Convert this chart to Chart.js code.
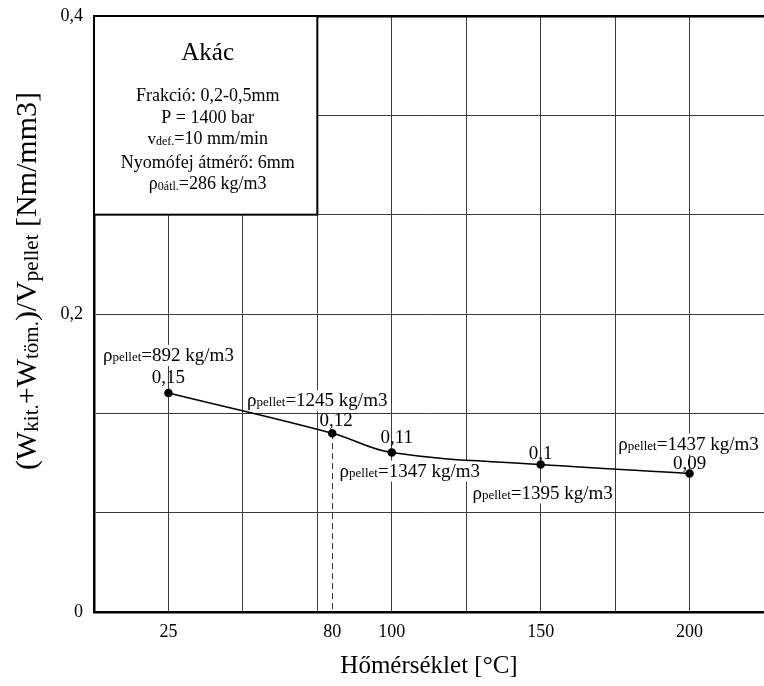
<!DOCTYPE html>
<html>
<head>
<meta charset="utf-8">
<script src="https://cdn.jsdelivr.net/npm/chart.js@4.4.1/dist/chart.umd.min.js"></script>
<style>
html,body{margin:0;padding:0;background:#fff;}
#wrap{width:764px;height:686px;}
canvas{display:block;}
</style>
</head>
<body>
<div id="wrap"><canvas id="c" width="764" height="686"></canvas></div>
<script>
// ---- data ----
const temperatures = [25, 80, 100, 150, 200];
const energyDensity = [0.147, 0.120, 0.107, 0.099, 0.093];
const valueLabels = ['0,15', '0,12', '0,11', '0,1', '0,09'];
const pelletDensities = [892, 1245, 1347, 1395, 1437];
const xTickLabels = [25, 80, 100, 150, 200];
const xGridValues = [0, 25, 50, 75, 80, 100, 125, 150, 175, 200, 225];
const yGridValues = [0, 0.4 / 6, 0.8 / 6, 1.2 / 6, 1.6 / 6, 2.0 / 6, 0.4];
const yTickLabels = [0, 0.2, 0.4];
const infoTitle = 'Akác';
const infoLines = [
  [{t: 'Frakció: 0,2-0,5mm'}],
  [{t: 'P = 1400 bar'}],
  [{t: 'v', s: 17}, {t: 'def.', s: 12, dy: 1}, {t: '=10 mm/min'}],
  [{t: 'Nyomófej átmérő: 6mm'}],
  [{t: 'ρ'}, {t: '0átl.', s: 12, dy: 1}, {t: '=286 kg/m3'}]
];
const xTitle = 'Hőmérséklet [°C]';
const yTitleParts = [
  {t: '(W'}, {t: 'kit.', sub: true}, {t: '+W'}, {t: 'töm.', sub: true},
  {t: ')/V'}, {t: 'pellet', sub: true}, {t: ' [Nm/mm3]'}
];

// ---- styling ----
const FONT = '"Liberation Serif", "Times New Roman", serif';
const GRID = '#3c3c3c';
// label offsets (px) relative to each point: rho label centre, value label centre
const rhoOffsets = [[0, -38], [-15, -33], [18, 18], [2, 28], [-1, -30]];
const valOffsets = [[0, -16], [4, -13], [5, -16], [0, -12], [0, -11]];

function richWidth(ctx, parts, base) {
  let w = 0;
  for (const p of parts) {
    ctx.font = (p.s || base) + 'px ' + FONT;
    w += ctx.measureText(p.t).width;
  }
  return w;
}
function drawRich(ctx, parts, cx, cy, base) {
  const w = richWidth(ctx, parts, base);
  let x = cx - w / 2;
  const baseY = cy + base * 0.33;
  ctx.textAlign = 'left';
  ctx.textBaseline = 'alphabetic';
  for (const p of parts) {
    ctx.font = (p.s || base) + 'px ' + FONT;
    ctx.fillText(p.t, x, baseY + (p.dy || 0));
    x += ctx.measureText(p.t).width;
  }
  return {x0: cx - w / 2, x1: cx + w / 2, w};
}

const overlay = {
  id: 'overlay',
  beforeDatasetsDraw(chart) {
    const {ctx, chartArea: a, scales: {x, y}} = chart;
    ctx.save();
    // dashed drop line at 80 °C
    const i80 = temperatures.indexOf(80);
    const px80 = Math.round(x.getPixelForValue(80)) + 0.5;
    ctx.strokeStyle = '#333';
    ctx.lineWidth = 1;
    ctx.setLineDash([6, 4]);
    ctx.beginPath();
    ctx.moveTo(px80, y.getPixelForValue(energyDensity[i80]));
    ctx.lineTo(px80, a.bottom);
    ctx.stroke();
    ctx.setLineDash([]);

    // info box
    const bx0 = a.left, bx1 = x.getPixelForValue(75);
    const by0 = a.top, by1 = y.getPixelForValue(1.6 / 6);
    ctx.fillStyle = '#fff';
    ctx.fillRect(bx0, by0, bx1 - bx0, by1 - by0);
    ctx.strokeStyle = '#000';
    ctx.lineWidth = 2;
    ctx.strokeRect(bx0, by0, bx1 - bx0, by1 - by0);
    ctx.fillStyle = '#000';
    const cx = (bx0 + bx1) / 2 + 2;
    drawRich(ctx, [{t: infoTitle}], cx, by0 + 36, 25);
    const lineYs = [79, 101, 122, 146, 167];
    infoLines.forEach((ln, k) => drawRich(ctx, ln, cx, by0 + lineYs[k], 18));

    // density labels with white background
    pelletDensities.forEach((d, k) => {
      const px = x.getPixelForValue(temperatures[k]) + rhoOffsets[k][0];
      const py = y.getPixelForValue(energyDensity[k]) + rhoOffsets[k][1];
      const parts = [{t: 'ρ'}, {t: 'pellet', s: 13, dy: 0}, {t: '=' + d + ' kg/m3'}];
      const w = richWidth(ctx, parts, 19);
      ctx.fillStyle = '#fff';
      ctx.fillRect(px - w / 2 - 1, py - 10, w + 2, 21);
      ctx.fillStyle = '#000';
      drawRich(ctx, parts, px, py, 19);
    });
    ctx.restore();
  },
  afterDatasetsDraw(chart) {
    const {ctx, scales: {x, y}} = chart;
    ctx.save();
    ctx.fillStyle = '#000';
    valueLabels.forEach((v, k) => {
      const px = x.getPixelForValue(temperatures[k]) + valOffsets[k][0];
      const py = y.getPixelForValue(energyDensity[k]) + valOffsets[k][1];
      drawRich(ctx, [{t: v}], px, py, 19);
    });
    ctx.restore();
  },
  afterDraw(chart) {
    const {ctx, chartArea: a} = chart;
    ctx.save();
    ctx.fillStyle = '#000';
    // x title
    drawRich(ctx, [{t: xTitle}], (a.left + a.right) / 2, 665, 25);
    // y title (rotated, with subscripts)
    const big = 30, small = 21;
    let w = 0;
    for (const p of yTitleParts) {
      ctx.font = (p.sub ? small : big) + 'px ' + FONT;
      w += ctx.measureText(p.t).width;
    }
    ctx.translate(36, 281);
    ctx.rotate(-Math.PI / 2);
    ctx.textAlign = 'left';
    ctx.textBaseline = 'alphabetic';
    let xx = -w / 2;
    for (const p of yTitleParts) {
      ctx.font = (p.sub ? small : big) + 'px ' + FONT;
      ctx.fillText(p.t, xx, p.sub ? 2 : 0);
      xx += ctx.measureText(p.t).width;
    }
    ctx.restore();
  }
};

new Chart(document.getElementById('c'), {
  type: 'line',
  data: {
    datasets: [{
      data: temperatures.map((t, k) => ({x: t, y: energyDensity[k]})),
      borderColor: '#000',
      borderWidth: 1.5,
      tension: 0.4,
      pointRadius: 3.5,
      pointBackgroundColor: '#000',
      pointBorderColor: '#000',
      fill: false
    }]
  },
  options: {
    responsive: false,
    animation: false,
    events: [],
    layout: {autoPadding: false, padding: {top: 16, right: 0, left: 0, bottom: 0}},
    plugins: {legend: {display: false}, tooltip: {enabled: false}},
    scales: {
      x: {
        type: 'linear',
        min: 0, max: 225,
        afterBuildTicks(s) { s.ticks = xGridValues.map(v => ({value: v})); },
        afterFit(s) { s.height = 74; s.paddingLeft = 0; s.paddingRight = 0; },
        ticks: {
          autoSkip: false,
          maxRotation: 0,
          padding: 9,
          color: '#000',
          font: {family: FONT, size: 18},
          callback: v => xTickLabels.includes(v) ? String(v) : ''
        },
        grid: {
          drawTicks: false,
          color: c => (c.tick && (c.tick.value === 80 || c.tick.value === 225)) ? 'rgba(0,0,0,0)' : GRID,
          lineWidth: 1
        },
        border: {display: true, color: '#000', width: 2.5}
      },
      y: {
        type: 'linear',
        min: 0, max: 0.4,
        afterBuildTicks(s) { s.ticks = yGridValues.map(v => ({value: v})); },
        afterFit(s) { s.width = 94; s.paddingTop = 0; s.paddingBottom = 0; },
        ticks: {
          autoSkip: false,
          padding: 11,
          color: '#000',
          font: {family: FONT, size: 18},
          callback: v => {
            const m = yTickLabels.find(t => Math.abs(t - v) < 1e-9);
            return m === undefined ? '' : String(m).replace('.', ',');
          }
        },
        grid: {
          drawTicks: false,
          color: c => (c.tick && Math.abs(c.tick.value - 0.4) < 1e-9) ? '#000' : GRID,
          lineWidth: c => (c.tick && Math.abs(c.tick.value - 0.4) < 1e-9) ? 2.5 : 1
        },
        border: {display: true, color: '#000', width: 2.5}
      }
    }
  },
  plugins: [overlay]
});
</script>
</body>
</html>
